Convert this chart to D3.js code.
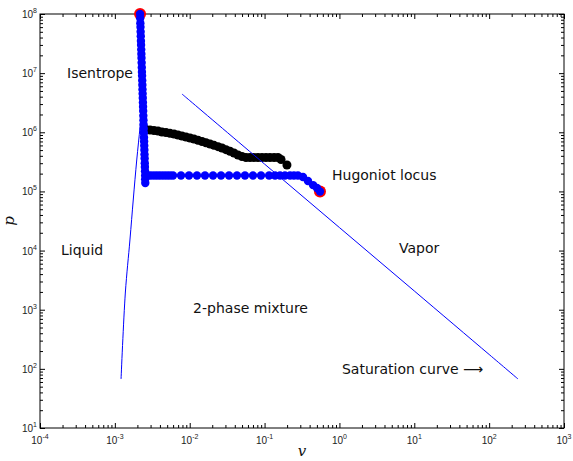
<!DOCTYPE html>
<html lang="en">
<head>
<meta charset="UTF-8">
<title>p-v diagram</title>
<script src="https://d3js.org/d3.v7.min.js"></script>
<style>
  body { margin: 0; background: #fff; }
  .tick-label { font-family: "Liberation Sans", Arial, sans-serif; font-size: 10px; fill: #222; }
  .note { font-family: "DejaVu Sans", sans-serif; font-size: 14px; fill: #111; }
  .axis-title { font-family: "DejaVu Serif", "Liberation Serif", serif; font-style: italic; font-size: 15px; fill: #111; }
</style>
</head>
<body>
<svg width="573" height="461"></svg>
<script>
// saturation curve, liquid branch (v, p)
const satLiquidV = [1.21e-3, 1.38e-3, 1.59e-3, 1.76e-3, 1.96e-3, 2.17e-3, 2.3e-3];
const satLiquidP = [67.3, 1915, 1.51e4, 7.16e4, 3.40e5, 1.23e6, 3.0e6];
// saturation curve, vapor branch
const satVaporV = [7.88e-3, 1e-2, 0.1, 1, 10, 100, 243];
const satVaporP = [4.44e6, 3.44e6, 2.90e5, 2.45e4, 2075, 175, 67.4];

// blue curve (isentrope down, then across to the end state)
const blueV = [
  2.17e-3, 2.18e-3, 2.19e-3, 2.20e-3, 2.21e-3, 2.22e-3, 2.23e-3, 2.24e-3, 2.25e-3, 2.26e-3,
  2.27e-3, 2.28e-3, 2.29e-3, 2.30e-3, 2.31e-3, 2.32e-3, 2.33e-3, 2.34e-3, 2.35e-3, 2.36e-3,
  2.37e-3, 2.38e-3, 2.39e-3, 2.40e-3, 2.41e-3, 2.42e-3, 2.43e-3, 2.44e-3, 2.45e-3, 2.46e-3,
  2.47e-3, 2.48e-3, 2.49e-3, 2.50e-3, 2.51e-3, 2.52e-3, 2.53e-3, 2.54e-3, 2.54e-3, 2.55e-3,
  2.61e-3, 2.86e-3, 3.13e-3, 3.44e-3, 3.77e-3, 4.13e-3, 4.53e-3, 4.97e-3, 5.45e-3, 5.98e-3,
  7.65e-3, 9.78e-3, 1.25e-2, 1.60e-2, 2.05e-2, 2.62e-2, 3.35e-2, 4.28e-2, 5.47e-2, 7.00e-2,
  8.96e-2, 0.115, 0.138, 0.161, 0.187, 0.219, 0.247, 0.279,
  0.326, 0.380, 0.444, 0.501, 0.55
];
const blueP = [
  1e8, 8.5e7, 7e7, 6e7, 5e7, 4.2e7, 3.5e7, 3e7, 2.5e7, 2.1e7,
  1.8e7, 1.5e7, 1.25e7, 1.05e7, 9e6, 7.5e6, 6.3e6, 5.3e6, 4.5e6, 3.8e6,
  3.2e6, 2.7e6, 2.3e6, 1.9e6, 1.6e6, 1.35e6, 1.15e6, 9.7e5, 8.2e5, 7e5,
  5.9e5, 5e5, 4.2e5, 3.6e5, 3e5, 2.6e5, 2.2e5, 1.86e5, 1.6e5, 1.39e5,
  1.86e5, 1.86e5, 1.86e5, 1.86e5, 1.86e5, 1.86e5, 1.86e5, 1.86e5, 1.86e5, 1.86e5,
  1.86e5, 1.86e5, 1.86e5, 1.86e5, 1.86e5, 1.86e5, 1.86e5, 1.86e5, 1.86e5, 1.86e5,
  1.86e5, 1.86e5, 1.86e5, 1.86e5, 1.86e5, 1.86e5, 1.86e5, 1.86e5,
  1.75e5, 1.50e5, 1.28e5, 1.14e5, 1.0e5
];

// black curve
const blackV = [
  2.61e-3, 2.95e-3, 3.33e-3, 3.77e-3, 4.26e-3, 4.82e-3, 5.45e-3, 6.17e-3, 6.97e-3, 7.88e-3,
  8.92e-3, 1.009e-2, 1.14e-2, 1.29e-2, 1.46e-2, 1.65e-2, 1.87e-2, 2.11e-2, 2.39e-2, 2.70e-2,
  3.05e-2, 3.45e-2, 3.90e-2, 4.41e-2, 4.99e-2, 5.65e-2, 6.39e-2, 7.22e-2, 8.17e-2, 9.24e-2,
  0.1045, 0.118, 0.134, 0.151, 0.166, 0.199
];
const blackP = [
  1.11e6, 1.093e6, 1.072e6, 1.051e6, 1.011e6, 9.92e5, 9.61e5, 9.35e5, 8.99e5, 8.65e5,
  8.32e5, 8.00e5, 7.70e5, 7.32e5, 6.98e5, 6.64e5, 6.34e5, 6.02e5, 5.71e5, 5.42e5,
  5.09e5, 4.77e5, 4.46e5, 4.13e5, 3.89e5, 3.75e5, 3.75e5, 3.75e5, 3.75e5, 3.75e5,
  3.75e5, 3.75e5, 3.75e5, 3.75e5, 3.47e5, 2.80e5
];

// end states (red circles)
const endV = [2.17e-3, 0.55];
const endP = [1e8, 1e5];

const xExp = [-4, -3, -2, -1, 0, 1, 2, 3];
const yExp = [1, 2, 3, 4, 5, 6, 7, 8];

const noteText = ["Isentrope", "Hugoniot locus", "Liquid", "Vapor", "2-phase mixture", "Saturation curve \u27F6"];
const noteV = [2.30e-4, 0.796, 1.91e-4, 6.25, 1.11e-2, 1.08];
const noteP = [8.28e6, 1.56e5, 8.4e3, 9.1e3, 879, 81.9];

const svg = d3.select("svg");
const mLeft = 40, mRight = 564, mTop = 14, mBottom = 428;

const x = d3.scaleLog().domain([1e-4, 1e3]).range([mLeft, mRight]);
const y = d3.scaleLog().domain([10, 1e8]).range([mBottom, mTop]);

const xMajor = xExp.map(e => Math.pow(10, e));
const yMajor = yExp.map(e => Math.pow(10, e));
const minorOf = (exps) => {
  const out = [];
  exps.slice(0, -1).forEach(e => {
    for (let k = 2; k <= 9; k++) out.push(k * Math.pow(10, e));
  });
  return out;
};
const xMinor = minorOf(xExp);
const yMinor = minorOf(yExp);

// frame
svg.append("rect")
  .attr("x", mLeft).attr("y", mTop)
  .attr("width", mRight - mLeft).attr("height", mBottom - mTop)
  .attr("fill", "none").attr("stroke", "#000").attr("stroke-width", 1);

function tickAxis(axisFn, scale, values, size, transform) {
  const g = svg.append("g")
    .attr("transform", transform)
    .call(axisFn(scale).tickValues(values).tickSize(-size).tickFormat(""));
  g.select(".domain").remove();
  g.selectAll(".tick line").attr("stroke", "#000").attr("stroke-width", 1);
  return g;
}

tickAxis(d3.axisBottom, x, xMajor, 5, `translate(0,${mBottom})`);
tickAxis(d3.axisBottom, x, xMinor, 3, `translate(0,${mBottom})`);
tickAxis(d3.axisTop, x, xMajor, 5, `translate(0,${mTop})`);
tickAxis(d3.axisTop, x, xMinor, 3, `translate(0,${mTop})`);
tickAxis(d3.axisLeft, y, yMajor, 5, `translate(${mLeft},0)`);
tickAxis(d3.axisLeft, y, yMinor, 3, `translate(${mLeft},0)`);
tickAxis(d3.axisRight, y, yMajor, 5, `translate(${mRight},0)`);
tickAxis(d3.axisRight, y, yMinor, 3, `translate(${mRight},0)`);

// tick labels with superscripts
xExp.forEach(e => {
  const t = svg.append("text")
    .attr("class", "tick-label")
    .attr("x", x(Math.pow(10, e)))
    .attr("y", mBottom + 16)
    .attr("text-anchor", "middle");
  t.append("tspan").text("10");
  t.append("tspan").attr("dy", -5).attr("font-size", "7px").text(e);
});
yExp.forEach(e => {
  const t = svg.append("text")
    .attr("class", "tick-label")
    .attr("x", mLeft - 3)
    .attr("y", y(Math.pow(10, e)) + 4)
    .attr("text-anchor", "end");
  t.append("tspan").text("10");
  t.append("tspan").attr("dy", -5).attr("font-size", "7px").text(e);
});

// axis titles
svg.append("text").attr("class", "axis-title")
  .attr("x", (mLeft + mRight) / 2).attr("y", 456)
  .attr("text-anchor", "middle").text("v");
svg.append("text").attr("class", "axis-title")
  .attr("transform", `translate(14,${(mTop + mBottom) / 2}) rotate(-90)`)
  .attr("text-anchor", "middle").text("p");

// markers
const zip = (vs, ps) => vs.map((v, i) => ({ v: v, p: ps[i] }));

svg.append("g").selectAll("circle")
  .data(zip(endV, endP)).join("circle")
  .attr("cx", d => x(d.v)).attr("cy", d => y(d.p))
  .attr("r", 6).attr("fill", "#ff0000");

svg.append("g").selectAll("circle")
  .data(zip(blackV, blackP)).join("circle")
  .attr("cx", d => x(d.v)).attr("cy", d => y(d.p))
  .attr("r", 4.5).attr("fill", "#000");

svg.append("g").selectAll("circle")
  .data(zip(blueV, blueP)).join("circle")
  .attr("cx", d => x(d.v)).attr("cy", d => y(d.p))
  .attr("r", 4.2).attr("fill", "#0000ff");

// saturation curve
const line = d3.line().x(d => x(d.v)).y(d => y(d.p)).curve(d3.curveCatmullRom);
[zip(satLiquidV, satLiquidP), zip(satVaporV, satVaporP)].forEach(branch => {
  svg.append("path")
    .attr("d", line(branch))
    .attr("fill", "none")
    .attr("stroke", "#0000ff")
    .attr("stroke-width", 1);
});

// region labels
noteText.forEach((t, i) => {
  svg.append("text")
    .attr("class", "note")
    .attr("x", x(noteV[i])).attr("y", y(noteP[i]))
    .text(t);
});
</script>
</body>
</html>
